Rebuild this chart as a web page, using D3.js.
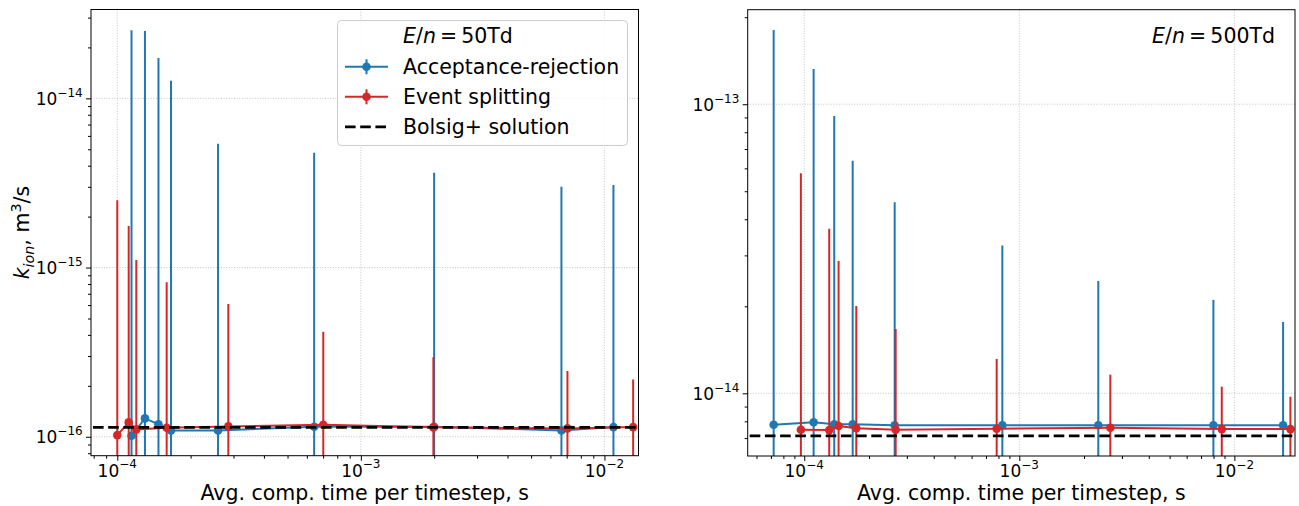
<!DOCTYPE html>
<html><head><meta charset="utf-8">
<script src="https://cdn.jsdelivr.net/npm/d3@7"></script>
<style>
body{margin:0;background:#fff}
text{font-family:"DejaVu Sans",sans-serif;fill:#000}
</style>
</head><body>
<svg id="chart" width="1299" height="506"></svg>
<script>
// ---------- data ----------
// Left panel: E/n = 50 Td
const leftArTime = [1.144e-4, 1.299e-4, 1.476e-4, 1.662e-4, 2.592e-4, 6.43e-4, 1.999e-3, 6.66e-3, 1.089e-2];
const leftArRate = [1.014e-16, 1.284e-16, 1.184e-16, 1.088e-16, 1.091e-16, 1.146e-16, 1.146e-16, 1.091e-16, 1.141e-16];
const leftArErr  = [2.52e-14, 2.49e-14, 1.72e-14, 1.26e-14, 5.28e-15, 4.66e-15, 3.52e-15, 2.89e-15, 2.96e-15];
const leftEsTime = [1.0e-4, 1.114e-4, 1.197e-4, 1.595e-4, 2.857e-4, 7.01e-4, 1.985e-3, 7.05e-3, 1.312e-2];
const leftEsRate = [1.023e-16, 1.216e-16, 1.106e-16, 1.130e-16, 1.152e-16, 1.177e-16, 1.137e-16, 1.121e-16, 1.141e-16];
const leftEsErr  = [2.40e-15, 1.64e-15, 9.97e-16, 7.05e-16, 4.94e-16, 3.00e-16, 1.81e-16, 1.33e-16, 1.04e-16];
const leftBolsig = 1.135e-16;
const leftXDomain = [7.8e-5, 1.38e-2];
const leftYDomain = [7.73e-17, 3.35e-14];
const leftXTicks = [1e-4, 1e-3, 1e-2];
const leftYTicks = [1e-16, 1e-15, 1e-14];

// Right panel: E/n = 500 Td
const rightArTime = [7.21e-5, 1.106e-4, 1.379e-4, 1.68e-4, 2.634e-4, 8.34e-4, 2.33e-3, 7.99e-3, 1.685e-2];
const rightArRate = [7.785e-15, 7.94e-15, 7.81e-15, 7.81e-15, 7.75e-15, 7.75e-15, 7.75e-15, 7.75e-15, 7.75e-15];
const rightArErr  = [1.729e-13, 1.245e-13, 8.33e-14, 5.59e-14, 3.81e-14, 2.47e-14, 1.67e-14, 1.33e-14, 9.9e-15];
const rightEsTime = [9.65e-5, 1.307e-4, 1.445e-4, 1.746e-4, 2.662e-4, 7.85e-4, 2.65e-3, 8.74e-3, 1.822e-2];
const rightEsRate = [7.48e-15, 7.46e-15, 7.71e-15, 7.57e-15, 7.48e-15, 7.54e-15, 7.60e-15, 7.52e-15, 7.52e-15];
const rightEsErr  = [5.02e-14, 2.96e-14, 2.10e-14, 1.247e-14, 9.21e-15, 5.61e-15, 4.0e-15, 3.02e-15, 2.21e-15];
const rightBolsig = 7.13e-15;
const rightXDomain = [5.46e-5, 1.914e-2];
const rightYDomain = [6.07e-15, 2.123e-13];
const rightXTicks = [1e-4, 1e-3, 1e-2];
const rightYTicks = [1e-14, 1e-13];

const seriesNames = ["Acceptance-rejection", "Event splitting", "Bolsig+ solution"];
const xLabel = "Avg. comp. time per timestep, s";

// ---------- styles ----------
const BLUE = "#1f77b4", RED = "#d62728";
const svg = d3.select("#chart");

function minorTicks(domain) {
  const out = [];
  const d0 = Math.floor(Math.log10(domain[0])), d1 = Math.ceil(Math.log10(domain[1]));
  for (let d = d0; d <= d1; d++) for (let m = 2; m <= 9; m++) {
    const v = m * Math.pow(10, d);
    if (v >= domain[0] && v <= domain[1]) out.push(v);
  }
  return out;
}

function powLabel(textSel, v) {
  const e = Math.round(Math.log10(v));
  textSel.append("tspan").text("10");
  textSel.append("tspan").attr("dy", -8.3).attr("font-size", 12).text("\u2212" + Math.abs(e));
}

function panel(cfg) {
  const {x0, x1, y0, y1, id} = cfg;
  const x = d3.scaleLog().domain(cfg.xDomain).range([x0, x1]);
  const y = d3.scaleLog().domain(cfg.yDomain).range([y1, y0]);
  const g = svg.append("g");
  svg.append("clipPath").attr("id", id).append("rect")
    .attr("x", x0).attr("y", y0).attr("width", x1 - x0).attr("height", y1 - y0);

  // grid
  const grid = g.append("g").attr("stroke", "#b8b8b8").attr("stroke-width", 0.8).attr("stroke-dasharray", "1,1.6");
  cfg.xTicks.forEach(t => grid.append("line").attr("x1", x(t)).attr("x2", x(t)).attr("y1", y0).attr("y2", y1));
  cfg.yTicks.forEach(t => grid.append("line").attr("x1", x0).attr("x2", x1).attr("y1", y(t)).attr("y2", y(t)));

  // axes ticks via d3 axes
  const styleAxis = a => { a.select(".domain").remove(); a.selectAll("line").attr("stroke", "#000").attr("stroke-width", 1); a.selectAll("text").remove(); };
  g.append("g").attr("transform", `translate(0,${y1})`).call(d3.axisBottom(x).tickValues(cfg.xTicks).tickSize(5).tickFormat("")).call(styleAxis);
  g.append("g").attr("transform", `translate(0,${y1})`).call(d3.axisBottom(x).tickValues(minorTicks(cfg.xDomain)).tickSize(3).tickFormat("")).call(styleAxis);
  g.append("g").attr("transform", `translate(${x0},0)`).call(d3.axisLeft(y).tickValues(cfg.yTicks).tickSize(5).tickFormat("")).call(styleAxis);
  g.append("g").attr("transform", `translate(${x0},0)`).call(d3.axisLeft(y).tickValues(minorTicks(cfg.yDomain)).tickSize(3).tickFormat("")).call(styleAxis);

  // tick labels
  cfg.xTicks.forEach(t => {
    const tx = g.append("text").attr("x", x(t)).attr("y", y1 + 21).attr("font-size", 17).attr("text-anchor", "middle");
    powLabel(tx, t);
  });
  cfg.yTicks.forEach(t => {
    const tx = g.append("text").attr("x", x0 - 8.3).attr("y", y(t) + 6.7).attr("font-size", 17).attr("text-anchor", "end");
    powLabel(tx, t);
  });

  // x label
  g.append("text").attr("x", (x0 + x1) / 2).attr("y", 500).attr("font-size", 20.5)
    .attr("text-anchor", "middle").text(xLabel);

  const plot = g.append("g").attr("clip-path", `url(#${id})`);
  const yBottom = cfg.yDomain[0];
  function series(times, rates, errs, color) {
    const pts = times.map((t, i) => ({t, r: rates[i], e: errs[i]}));
    const sg = plot.append("g");
    sg.selectAll("line.eb").data(pts).enter().append("line")
      .attr("x1", d => x(d.t)).attr("x2", d => x(d.t))
      .attr("y1", d => y(d.r + d.e))
      .attr("y2", d => y(d.r - d.e > 0 ? Math.max(d.r - d.e, yBottom / 2) : yBottom / 2))
      .attr("stroke", color).attr("stroke-width", 2);
    sg.append("path").datum(pts)
      .attr("d", d3.line().x(d => x(d.t)).y(d => y(d.r)))
      .attr("fill", "none").attr("stroke", color).attr("stroke-width", 2);
    sg.selectAll("circle").data(pts).enter().append("circle")
      .attr("cx", d => x(d.t)).attr("cy", d => y(d.r)).attr("r", 4.3).attr("fill", color);
  }
  series(cfg.arTime, cfg.arRate, cfg.arErr, BLUE);
  series(cfg.esTime, cfg.esRate, cfg.esErr, RED);
  plot.append("line").attr("x1", x0).attr("x2", x1).attr("y1", y(cfg.bolsig)).attr("y2", y(cfg.bolsig))
    .attr("stroke", "#000").attr("stroke-width", 2.8).attr("stroke-dasharray", "10.6,4.6").attr("stroke-dashoffset", -2);

  // frame
  g.append("rect").attr("x", x0).attr("y", y0).attr("width", x1 - x0).attr("height", y1 - y0)
    .attr("fill", "none").attr("stroke", "#000").attr("stroke-width", 1);
  return {x, y, g};
}

const L = panel({id: "clipL", x0: 91, x1: 638.5, y0: 9.5, y1: 455.7,
  xDomain: leftXDomain, yDomain: leftYDomain, xTicks: leftXTicks, yTicks: leftYTicks,
  arTime: leftArTime, arRate: leftArRate, arErr: leftArErr,
  esTime: leftEsTime, esRate: leftEsRate, esErr: leftEsErr, bolsig: leftBolsig});
const R = panel({id: "clipR", x0: 747.7, x1: 1295, y0: 9.7, y1: 456,
  xDomain: rightXDomain, yDomain: rightYDomain, xTicks: rightXTicks, yTicks: rightYTicks,
  arTime: rightArTime, arRate: rightArRate, arErr: rightArErr,
  esTime: rightEsTime, esRate: rightEsRate, esErr: rightEsErr, bolsig: rightBolsig});

// y label (left only)
const yl = svg.append("text").attr("transform", "translate(29,232.6) rotate(-90)")
  .attr("text-anchor", "middle").attr("font-size", 20.5);
yl.append("tspan").attr("font-style", "italic").text("k");
yl.append("tspan").attr("font-style", "italic").attr("font-size", 14.3).attr("dy", 5).text("ion");
yl.append("tspan").attr("dy", -5).text(", m");
yl.append("tspan").attr("font-size", 14.3).attr("dy", -8).text("3");
yl.append("tspan").attr("dy", 8).text("/s");

function enLabel(sel, val) {
  sel.append("tspan").attr("font-style", "italic").text("E");
  sel.append("tspan").text("/");
  sel.append("tspan").attr("font-style", "italic").text("n");
  sel.append("tspan").text("\u2009=\u2009" + val + "Td");
}

// legend (left panel)
const lg = svg.append("g");
lg.append("rect").attr("x", 337.5).attr("y", 20.5).attr("width", 290).attr("height", 125).attr("rx", 4)
  .attr("fill", "#fff").attr("fill-opacity", 0.8).attr("stroke", "#cccccc").attr("stroke-width", 1);
enLabel(lg.append("text").attr("x", 403).attr("y", 43.3).attr("font-size", 20.5), "50");
const rows = [{c: BLUE, y: 66.8, name: seriesNames[0]}, {c: RED, y: 96.8, name: seriesNames[1]}];
rows.forEach(r => {
  lg.append("line").attr("x1", 345).attr("x2", 388).attr("y1", r.y).attr("y2", r.y).attr("stroke", r.c).attr("stroke-width", 2);
  lg.append("line").attr("x1", 366.5).attr("x2", 366.5).attr("y1", r.y - 7.5).attr("y2", r.y + 7.5).attr("stroke", r.c).attr("stroke-width", 2);
  lg.append("circle").attr("cx", 366.5).attr("cy", r.y).attr("r", 4.3).attr("fill", r.c);
  lg.append("text").attr("x", 403).attr("y", r.y + 7.2).attr("font-size", 20.5).text(r.name);
});
lg.append("line").attr("x1", 345).attr("x2", 388).attr("y1", 126.8).attr("y2", 126.8)
  .attr("stroke", "#000").attr("stroke-width", 2.8).attr("stroke-dasharray", "10.6,4.6");
lg.append("text").attr("x", 403).attr("y", 134).attr("font-size", 20.5).text(seriesNames[2]);

// right panel annotation
enLabel(svg.append("text").attr("x", 1275).attr("y", 43.3).attr("font-size", 20.5).attr("text-anchor", "end"), "500");
</script>
</body></html>
